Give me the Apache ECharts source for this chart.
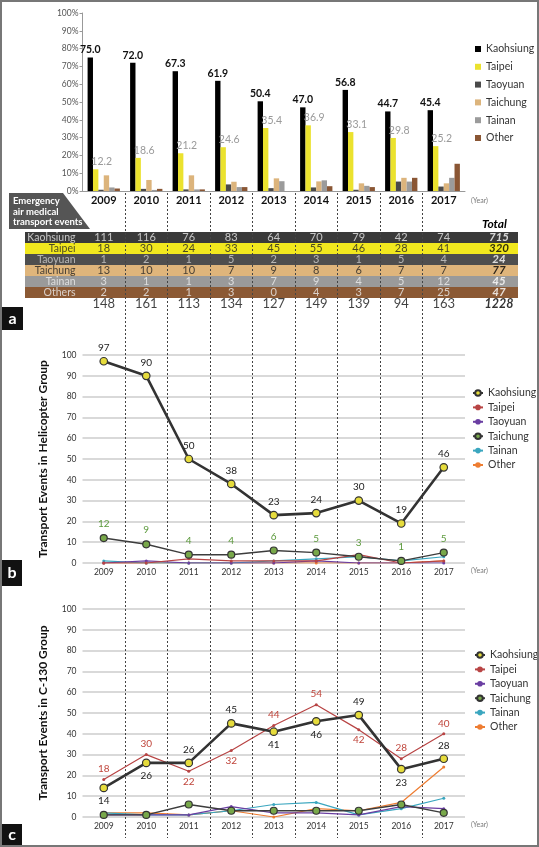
<!DOCTYPE html>
<html><head><meta charset="utf-8">
<script src="https://cdn.jsdelivr.net/npm/echarts@6/dist/echarts.min.js"></script>
<style>html,body{margin:0;padding:0;background:#fff}#c{width:539px;height:847px}</style>
</head><body><div id="c"></div>
<script>
// ---------- DATA ----------
const years = ['2009','2010','2011','2012','2013','2014','2015','2016','2017'];
const regions = ['Kaohsiung','Taipei','Taoyuan','Taichung','Tainan','Other'];
const yTicksPct = ['0%','10%','20%','30%','40%','50%','60%','70%','80%','90%','100%'];

// panel a: percentage of events by region
const pctKaohsiung = [75.0,72.0,67.3,61.9,50.4,47.0,56.8,44.7,45.4];
const pctTaipei    = [12.2,18.6,21.2,24.6,35.4,36.9,33.1,29.8,25.2];
const pctTaoyuan   = [0.7,1.2,0.9,3.7,1.6,2.0,0.7,5.3,2.5];
const pctTaichung  = [8.8,6.2,8.8,5.2,7.1,5.4,4.3,7.4,4.3];
const pctTainan    = [2.0,0.6,0.9,2.2,5.5,6.0,2.9,5.3,7.4];
const pctOther     = [1.4,1.2,0.9,2.2,0.0,2.7,2.2,7.4,15.3];

// panel a: table of counts
const tableRowNames = ['Kaohsiung','Taipei','Taoyuan','Taichung','Tainan','Others'];
const cntKaohsiung = [111,116,76,83,64,70,79,42,74];
const cntTaipei    = [18,30,24,33,45,55,46,28,41];
const cntTaoyuan   = [1,2,1,5,2,3,1,5,4];
const cntTaichung  = [13,10,10,7,9,8,6,7,7];
const cntTainan    = [3,1,1,3,7,9,4,5,12];
const cntOthers    = [2,2,1,3,0,4,3,7,25];
const rowTotals    = [715,320,24,77,45,47];
const yearTotals   = [148,161,113,134,127,149,139,94,163];
const grandTotal   = 1228;

// panel b: helicopter group
const heliKaohsiung = [97,90,50,38,23,24,30,19,46];
const heliTaipei    = [0,0,2,1,1,1,4,0,1];
const heliTaoyuan   = [0,1,0,0,0,1,0,0,0];
const heliTaichung  = [12,9,4,4,6,5,3,1,5];
const heliTainan    = [1,0,0,0,1,2,3,1,3];
const heliOther     = [0,0,0,0,0,0,0,0,1];

// panel c: C-130 group
const c130Kaohsiung = [14,26,26,45,41,46,49,23,28];
const c130Taipei    = [18,30,22,32,44,54,42,28,40];
const c130Taoyuan   = [1,1,1,5,2,2,1,5,4];
const c130Taichung  = [1,1,6,3,3,3,3,6,2];
const c130Tainan    = [2,1,1,3,6,7,1,4,9];
const c130Other     = [2,2,1,3,0,4,3,7,24];

// ---------- STYLE ----------
const FONT = 'Lato';
const barColors = ['#000000','#ebe22e','#4a4a4a','#dcb47c','#9b9b9b','#8a5634'];
const rowBand = ['#3a3a3a','#f1e81e','#4e4e4e','#dfb57b','#9a9a9a','#8b5934'];
const rowText = ['#e8e8e8','#222','#cfcfcf','#222','#eeeeee','#eeeeee','#111'];
const rowTotalText = ['#fff','#000','#fff','#000','#fff','#fff','#000'];
const lineStyles = {
  Kaohsiung:{line:'#333333', width:2.6, sym:7.5, fill:'#e6dc3c', border:'#333'},
  Taipei:{line:'#b84444', width:1.2, sym:3, fill:'#b84444', border:'#b84444'},
  Taoyuan:{line:'#6a3ea2', width:1.2, sym:3, fill:'#6a3ea2', border:'#6a3ea2'},
  Taichung:{line:'#3d3d3d', width:1.4, sym:7, fill:'#78a84a', border:'#333'},
  Tainan:{line:'#3aa6bf', width:1.2, sym:3, fill:'#3aa6bf', border:'#3aa6bf'},
  Other:{line:'#ee7d32', width:1.2, sym:3, fill:'#ee7d32', border:'#ee7d32'}
};
const c130KaohPos   = ['bottom','bottom','top','top','bottom','bottom','top','bottom','top'];
const c130TaipeiPos = ['top','top','bottom','bottom','top','top','bottom','top','top'];

// layout
const GL = 82.5, GW = 382.5;
const CW = GW / years.length;
const c0 = GL + CW / 2;
const TL = 25, TR = 518;
const toTableX = px => (px - c0) / CW;

const chart = echarts.init(document.getElementById('c'), null, {renderer:'canvas'});

// ---------- SERIES ----------
const pctSets = [pctKaohsiung,pctTaipei,pctTaoyuan,pctTaichung,pctTainan,pctOther];
const series = [];
regions.forEach((r, k) => {
  const s = {
    name:'a:'+r, type:'bar', xAxisIndex:0, yAxisIndex:0,
    data:pctSets[k], barGap:0, barCategoryGap:'24%',
    itemStyle:{color:barColors[k]}
  };
  if (k === 0) s.label = {show:true, position:'top', distance:2, fontFamily:FONT, fontSize:10.5, fontWeight:'bold', color:'#111', formatter:p=>p.value.toFixed(1)};
  if (k === 1) s.label = {show:true, position:'top', distance:2, offset:[6,0], fontFamily:FONT, fontSize:10.5, color:'#9a9a9a', formatter:p=>p.value.toFixed(1)};
  series.push(s);
});

// table row bands
series.push({
  name:'tableBands', type:'custom', xAxisIndex:1, yAxisIndex:1, silent:true, z:0,
  data:rowBand.map((c, r) => [0, r]),
  encode:{x:0, y:1},
  renderItem:(params, api) => {
    const r = api.value(1);
    const a = api.coord([toTableX(TL), r]);
    const b = api.coord([toTableX(TR), r]);
    const h = api.size([0, 1])[1];
    return {type:'rect', shape:{x:a[0], y:a[1]-h/2, width:b[0]-a[0], height:h}, style:{fill:rowBand[r]}};
  }
});

// table text
const cntSets = [cntKaohsiung,cntTaipei,cntTaoyuan,cntTaichung,cntTainan,cntOthers];
const tableData = [];
cntSets.forEach((arr, r) => {
  tableData.push({name:tableRowNames[r], value:[toTableX(76), r], label:{position:'left', distance:0, color:rowText[r], fontSize:10.5}});
  arr.forEach((v, i) => tableData.push({name:String(v), value:[i, r], label:{color:rowText[r]}}));
  tableData.push({name:String(rowTotals[r]), value:[toTableX(499), r], label:{color:rowTotalText[r], fontWeight:'bold', fontStyle:'italic', fontSize:11.5}});
});
yearTotals.forEach((v, i) => tableData.push({name:String(v), value:[i, 6], label:{color:'#111', fontSize:13}}));
tableData.push({name:String(grandTotal), value:[toTableX(499), 6], label:{color:'#000', fontWeight:'bold', fontStyle:'italic', fontSize:12.5}});
series.push({
  name:'table', type:'scatter', xAxisIndex:1, yAxisIndex:1, symbolSize:1, silent:true,
  itemStyle:{color:'rgba(0,0,0,0)'}, data:tableData, z:5,
  label:{show:true, position:'inside', formatter:'{b}', fontFamily:FONT, fontSize:11}
});

function lineSeries(prefix, name, values, ax, labelCfg) {
  const st = lineStyles[name];
  const s = {
    name:prefix+':'+name, type:'line', xAxisIndex:ax, yAxisIndex:ax, data:values,
    symbol:'circle', symbolSize:st.sym, showAllSymbol:true,
    lineStyle:{color:st.line, width:st.width},
    itemStyle:{color:st.fill, borderColor:st.border, borderWidth: st.sym > 5 ? 1.2 : 0},
    z: name==='Kaohsiung' ? 6 : (name==='Taichung' ? 5 : 4)
  };
  if (labelCfg) {
    s.label = Object.assign({show:true, fontFamily:FONT, fontSize:10, distance:3}, labelCfg.style);
    if (labelCfg.pos) s.data = values.map((v,i)=>({value:v, label:{position:labelCfg.pos[i]}}));
  }
  return s;
}
const heliSets = {Kaohsiung:heliKaohsiung,Taipei:heliTaipei,Taoyuan:heliTaoyuan,Taichung:heliTaichung,Tainan:heliTainan,Other:heliOther};
const c130Sets = {Kaohsiung:c130Kaohsiung,Taipei:c130Taipei,Taoyuan:c130Taoyuan,Taichung:c130Taichung,Tainan:c130Tainan,Other:c130Other};
const drawOrder = ['Other','Tainan','Taoyuan','Taipei','Taichung','Kaohsiung'];
drawOrder.forEach(n => {
  let lab = null;
  if (n === 'Kaohsiung') lab = {style:{position:'top', color:'#222', distance:4}};
  if (n === 'Taichung') lab = {style:{position:'top', color:'#5c9a3c', distance:5}};
  series.push(lineSeries('b', n, heliSets[n], 2, lab));
});
drawOrder.forEach(n => {
  let lab = null;
  if (n === 'Kaohsiung') lab = {style:{color:'#222', distance:4}, pos:c130KaohPos};
  if (n === 'Taipei') lab = {style:{color:'#c0463c', distance:4}, pos:c130TaipeiPos};
  series.push(lineSeries('c', n, c130Sets[n], 3, lab));
});

// ---------- AXES ----------
const yearLabel = {fontFamily:FONT, fontSize:8.5, color:'#333', margin:5};
const yearName = {fontFamily:FONT, fontSize:7, color:'#777', verticalAlign:'top', padding:[4,0,0,0]};
const lineY = (title) => ({
  type:'value', min:0, max:100, interval:10,
  axisLine:{show:false}, axisTick:{show:false},
  axisLabel:{fontFamily:FONT, fontSize:8.5, color:'#333', margin:6},
  splitLine:{show:true, lineStyle:{color:'#cccccc', width:1.5}},
  name:title, nameLocation:'middle', nameRotate:90, nameGap:33,
  nameTextStyle:{fontFamily:FONT, fontSize:12, fontWeight:'bold', color:'#111'}
});
const legendText = {fontFamily:FONT, fontSize:10.5, color:'#333', lineHeight:12};

const option = {
  animation:false,
  backgroundColor:'#ffffff',
  textStyle:{fontFamily:FONT},
  grid:[
    {left:GL, width:GW, top:13, height:178},
    {left:TL, width:TR-TL, top:232, height:77},
    {left:GL, width:GW, top:355, height:208},
    {left:GL, width:GW, top:609, height:208},
    {left:GL, width:GW, top:193, height:645}
  ],
  xAxis:[
    {gridIndex:0, type:'category', data:years, axisLine:{lineStyle:{color:'#999'}}, axisTick:{show:false},
     axisLabel:{fontFamily:FONT, fontSize:11, fontWeight:'bold', color:'#111', margin:4},
     name:'(Year)', nameLocation:'end', nameGap:6, nameTextStyle:{fontFamily:FONT, fontSize:7, color:'#777', verticalAlign:'top', padding:[6,0,0,0]}},
    {gridIndex:1, type:'value', min:toTableX(TL), max:toTableX(TR), show:false},
    {gridIndex:2, type:'category', data:years, axisLine:{show:false}, axisTick:{show:false}, axisLabel:yearLabel,
     name:'(Year)', nameLocation:'end', nameGap:6, nameTextStyle:yearName},
    {gridIndex:3, type:'category', data:years, axisLine:{show:false}, axisTick:{show:false}, axisLabel:yearLabel,
     name:'(Year)', nameLocation:'end', nameGap:6, nameTextStyle:yearName},
    {gridIndex:4, type:'category', data:years, z:1, axisLine:{show:false}, axisTick:{show:false}, axisLabel:{show:false},
     splitLine:{show:true, showMinLine:false, showMaxLine:false, lineStyle:{color:'#444', width:1, type:[2,2]}}}
  ],
  yAxis:[
    {gridIndex:0, type:'value', min:0, max:100, interval:10,
     axisLine:{show:true, lineStyle:{color:'#999'}}, axisTick:{show:true, length:3, lineStyle:{color:'#999'}},
     axisLabel:{fontFamily:FONT, fontSize:8.5, color:'#555', margin:4, formatter:v=>yTicksPct[Math.round(v/10)]},
     splitLine:{show:false}},
    {gridIndex:1, type:'category', inverse:true, data:tableRowNames.concat(['Total']), show:false},
    Object.assign({gridIndex:2}, lineY('Transport Events in Helicopter Group')),
    Object.assign({gridIndex:3}, lineY('Transport Events in C-130 Group')),
    {gridIndex:4, type:'value', min:0, max:1, show:false}
  ],
  legend:[
    {orient:'vertical', left:475, top:43, padding:0, itemWidth:6, itemHeight:6, itemGap:5.8, icon:'rect',
     data:regions.map(r=>'a:'+r), formatter:n=>n.split(':')[1], textStyle:legendText, selectedMode:false},
    {orient:'vertical', left:472, top:387, padding:0, itemWidth:10, itemHeight:7, itemGap:2.4,
     data:regions.map(r=>'b:'+r), formatter:n=>n.split(':')[1], textStyle:legendText, selectedMode:false},
    {orient:'vertical', left:474, top:649, padding:0, itemWidth:10, itemHeight:7, itemGap:2.4,
     data:regions.map(r=>'c:'+r), formatter:n=>n.split(':')[1], textStyle:legendText, selectedMode:false}
  ],
  graphic:[
    {type:'rect', shape:{x:1, y:1, width:537, height:845}, style:{fill:'none', stroke:'#777', lineWidth:2}, silent:true, z:100},
    {type:'polygon', shape:{points:[[9,193],[63,193],[90,229],[9,229]]}, style:{fill:'#555'}, silent:true},
    {type:'text', left:13, top:196, style:{text:'Emergency\nair medical\ntransport events', fill:'#fff', font:'bold 9.5px Lato', lineHeight:10.5}, silent:true},
    {type:'text', left:482, top:218, style:{text:'Total', fill:'#000', font:'italic bold 12px Lato'}, silent:true},
    {type:'rect', shape:{x:2, y:307, width:21, height:23}, style:{fill:'#111'}, silent:true},
    {type:'text', x:12.5, y:318.5, style:{text:'a', fill:'#fff', font:'bold 16px Lato', align:'center', verticalAlign:'middle'}, silent:true},
    {type:'rect', shape:{x:2, y:560, width:20, height:26}, style:{fill:'#111'}, silent:true},
    {type:'text', x:12, y:573, style:{text:'b', fill:'#fff', font:'bold 16px Lato', align:'center', verticalAlign:'middle'}, silent:true},
    {type:'rect', shape:{x:2, y:824, width:20, height:22}, style:{fill:'#111'}, silent:true},
    {type:'text', x:12, y:835, style:{text:'c', fill:'#fff', font:'bold 16px Lato', align:'center', verticalAlign:'middle'}, silent:true}
  ],
  series:series
};
chart.setOption(option);
</script></body></html>
